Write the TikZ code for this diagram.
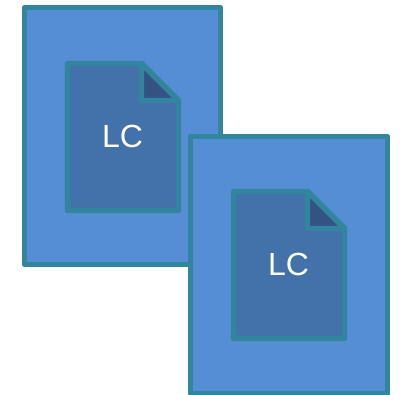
\documentclass[tikz,border=0pt]{standalone}
\usepackage{fontspec}
\setmainfont{Liberation Sans}
\definecolor{panelblue}{HTML}{558ED5}
\definecolor{edgeteal}{HTML}{31859C}
\definecolor{docblue}{HTML}{4372AA}
\definecolor{folddark}{HTML}{345283}
\tikzset{
  panel/.style={draw=edgeteal,fill=panelblue,line width=4pt,line join=round},
  docsheet/.style={draw=edgeteal,fill=docblue,line width=4pt,line join=round},
  docfold/.style={draw=edgeteal,fill=folddark,line width=4pt,line join=round},
  doclabel/.style={text=white,font=\fontsize{24pt}{26pt}\selectfont,inner sep=0pt}
}
\newcommand{\docicon}[3]{%
  \begin{scope}[shift={(#1,#2)}]
    \draw[docsheet] (0,0) -- (74,0) -- (111,37) -- (111,147) -- (0,147) -- cycle;
    \draw[docfold] (74,0) -- (111,37) -- (74,37) -- cycle;
    \node[doclabel] (#3) at (55,73) {LC};
  \end{scope}}
\begin{document}
\begin{tikzpicture}[x=0.75pt,y=-0.75pt]
  \useasboundingbox (0,0) rectangle (403,394);
  \draw[panel] (24.5,7.5) rectangle (220.5,264.5);
  \docicon{67.5}{63.5}{lcA}
  \draw[panel] (190.5,136.5) rectangle (387.5,393.5);
  \docicon{233.5}{191.5}{lcB}
\end{tikzpicture}
\end{document}
